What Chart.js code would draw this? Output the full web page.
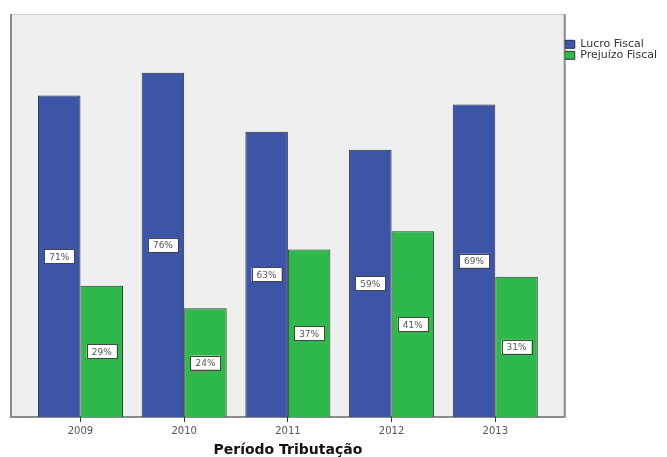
<!DOCTYPE html>
<html lang="pt">
<head>
    <meta charset="UTF-8">
    <title>Lucro e Prejuízo Fiscal</title>
    <script src="https://cdn.jsdelivr.net/npm/chart.js"></script>
    <style>
        html, body { margin: 0; padding: 0; background: #fff; }
        #wrap { width: 667px; height: 457px; }
    </style>
</head>
<body>
    <div id="wrap"><canvas id="fiscalChart" width="667" height="457"></canvas></div>

    <script>
        const years = [2009, 2010, 2011, 2012, 2013];
        const lucro = [71, 76, 63, 59, 69];
        const prejuizo = [29, 24, 37, 41, 31];
        const seriesNames = ["Lucro Fiscal", "Prejuízo Fiscal"];

        const FONT = "'DejaVu Sans', Verdana, sans-serif";

        // grey plot background + frame, like the SPSS output
        const plotFrame = {
            id: "plotFrame",
            beforeDraw(chart) {
                const a = chart.chartArea;
                const ctx = chart.ctx;
                ctx.save();
                ctx.fillStyle = "#efefef";
                ctx.fillRect(a.left, a.top, a.right - a.left, a.bottom - a.top);
                ctx.strokeStyle = "#c8c8c8";
                ctx.lineWidth = 1;
                ctx.strokeRect(a.left + 0.5, a.top + 0.5, a.right - a.left - 1, a.bottom - a.top);
                ctx.strokeStyle = "#8c8c8c";
                ctx.lineWidth = 2;
                ctx.beginPath();
                ctx.moveTo(a.left, a.top);
                ctx.lineTo(a.left, a.bottom);
                ctx.lineTo(a.right, a.bottom);
                ctx.lineTo(a.right, a.top);
                ctx.stroke();
                ctx.restore();
            }
        };

        // percentage labels in small white boxes at the middle of each bar
        const boxLabels = {
            id: "boxLabels",
            afterDatasetsDraw(chart) {
                const ctx = chart.ctx;
                ctx.save();
                ctx.font = "9px " + FONT;
                ctx.textAlign = "center";
                ctx.textBaseline = "middle";
                chart.data.datasets.forEach((ds, i) => {
                    chart.getDatasetMeta(i).data.forEach((bar, j) => {
                        const x = bar.x;
                        const y = (bar.y + bar.base) / 2;
                        const w = 30, h = 14;
                        ctx.fillStyle = "#ffffff";
                        ctx.fillRect(x - w / 2, y - h / 2, w, h);
                        ctx.strokeStyle = "#444";
                        ctx.lineWidth = 1;
                        ctx.strokeRect(Math.round(x - w / 2) + 0.5, Math.round(y - h / 2) + 0.5, w, h);
                        ctx.fillStyle = "#555";
                        ctx.fillText(ds.data[j] + "%", x, y + 1);
                    });
                });
                ctx.restore();
            }
        };

        new Chart(document.getElementById("fiscalChart").getContext("2d"), {
            type: "bar",
            data: {
                labels: years,
                datasets: [
                    {
                        label: seriesNames[0],
                        data: lucro,
                        backgroundColor: "#3d55a7",
                        borderColor: "#2b2f45",
                        borderWidth: 1
                    },
                    {
                        label: seriesNames[1],
                        data: prejuizo,
                        backgroundColor: "#2fb84b",
                        borderColor: "#2b3d2f",
                        borderWidth: 1
                    }
                ]
            },
            options: {
                responsive: false,
                animation: false,
                devicePixelRatio: 1,
                layout: { padding: { left: 11, top: 14, right: 0, bottom: 0 } },
                datasets: {
                    bar: { barPercentage: 1, categoryPercentage: 0.82 }
                },
                plugins: {
                    tooltip: { enabled: false },
                    legend: {
                        position: "right",
                        align: "start",
                        title: { display: true, text: " ", padding: { top: 14, bottom: 0 }, font: { size: 9, family: FONT } },
                        labels: {
                            boxWidth: 10,
                            boxHeight: 8,
                            padding: 0,
                            color: "#333",
                            font: { size: 11, family: FONT }
                        }
                    }
                },
                scales: {
                    x: {
                        type: "linear",
                        min: 2008.33,
                        max: 2013.67,
                        offset: false,
                        grid: { offset: false, drawOnChartArea: false, tickLength: 5, color: "#333" },
                        border: { display: false },
                        afterBuildTicks(scale) {
                            scale.ticks = years.map(v => ({ value: v }));
                        },
                        ticks: {
                            color: "#555",
                            font: { size: 10, family: FONT },
                            padding: 3,
                            maxRotation: 0,
                            callback: v => String(v)
                        },
                        title: {
                            display: true,
                            text: "Período Tributação",
                            color: "#111",
                            font: { size: 14, weight: "bold", family: FONT, lineHeight: 1 },
                            padding: { top: 3, bottom: 0 }
                        }
                    },
                    y: {
                        display: false,
                        min: 0,
                        max: 89
                    }
                }
            },
            plugins: [plotFrame, boxLabels]
        });
    </script>
</body>
</html>
